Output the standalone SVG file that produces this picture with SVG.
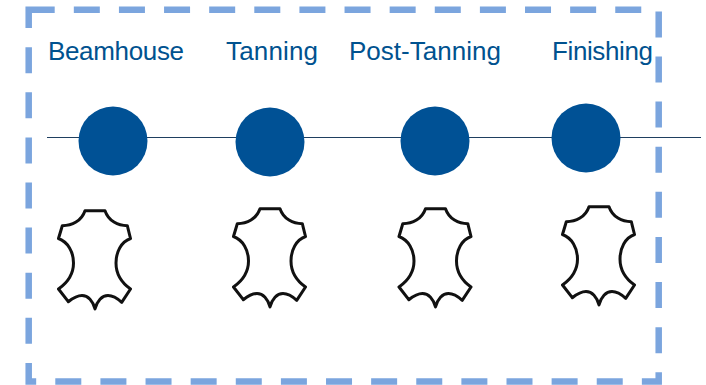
<svg xmlns="http://www.w3.org/2000/svg" width="706" height="385" viewBox="0 0 706 385">
<style>
.lbl{font-family:"Liberation Sans",Arial,sans-serif;font-size:26px;fill:#00528f}
.dot{fill:#005195}
.hide{fill:#fff;stroke:#111;stroke-width:3;stroke-linejoin:round}
</style>
<defs>
<path id="hide" class="hide" d="M85 210.7L105 210.7C108.5 221 118 225.7 127.3 225.7L130.5 238.5C121 242 116 252 116 263C116 274 122 283 130.5 289L121.7 302.3C117 298 113 295.5 108 295.5C102 295.5 97 301 95 309C93 301 88 295.5 82 295.5C77 295.5 73 298 68.3 301.7L58.5 289C67 283 73.5 274 73.5 263C73.5 252 68 242 58.5 238.5L62.3 225.7C72 225.7 81.5 221 85 210.7Z"/>
</defs>
<rect width="706" height="385" fill="#fff"/>
<g id="frame"><rect x="28.7" y="9.7" width="630" height="371.8" fill="none" stroke="#7ba5de" stroke-width="6.5" stroke-dasharray="26 19.12"/></g>
<g id="connectors"><line x1="47" y1="137.5" x2="701" y2="137.5" stroke="#1f3f60" stroke-width="1"/></g>
<g id="beamhouse"><text class="lbl" x="48" y="59.5" textLength="136">Beamhouse</text><circle class="dot" cx="113" cy="141" r="34.5"/><use href="#hide"/></g>
<g id="tanning"><text class="lbl" x="226" y="59.5" textLength="92">Tanning</text><circle class="dot" cx="270" cy="142" r="34.5"/><use href="#hide" x="175" y="-2"/></g>
<g id="post-tanning"><text class="lbl" x="349" y="59.5" textLength="152">Post-Tanning</text><circle class="dot" cx="435" cy="141" r="34.5"/><use href="#hide" x="340.5" y="-2"/></g>
<g id="finishing"><text class="lbl" x="552" y="59.5" textLength="101">Finishing</text><circle class="dot" cx="586" cy="138" r="34.5"/><use href="#hide" x="504" y="-4"/></g>
</svg>
